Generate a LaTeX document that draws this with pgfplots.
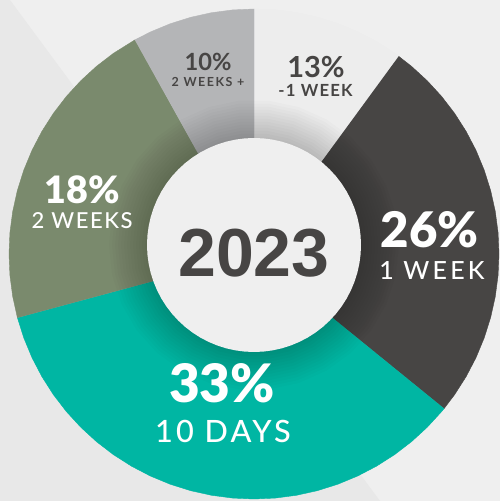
\documentclass[border=0pt]{standalone}
\usepackage{pgfplots}
\pgfplotsset{compat=1.18}
\usepackage{fontspec}
\newfontfamily\lato{Lato}
\newfontfamily\latoblk{Lato Black}
\newfontfamily\latomed[LetterSpace=7]{Lato Medium}
\newfontfamily\latosp[LetterSpace=7]{Lato}
\newfontfamily\arialf{Liberation Sans}
\definecolor{bgR}{HTML}{EFEFEF}
\definecolor{bgL}{HTML}{E8E8E8}
\definecolor{darkg}{HTML}{474544}
\definecolor{teal2}{HTML}{00B6A3}
\definecolor{olive2}{HTML}{7A8A6D}
\definecolor{lgray}{HTML}{B4B5B7}
\definecolor{sec13}{HTML}{EDEDED}
\definecolor{discc}{HTML}{EFEFEF}
\pgfplotsset{every axis/.append style={width=500pt, height=501pt, scale only axis, hide axis, clip=true, at={(0,0)}, anchor=south west},
  ring/.style={fill=black, fill opacity=0.017, draw=none, data cs=polar}}
\begin{document}
\begin{tikzpicture}
% axis 1: background and sectors, sectors centred at (0,0)
\begin{axis}[xmin=-254, xmax=246, ymin=-247, ymax=254]
\addplot[fill=bgR, draw=none] coordinates {(-254,-247) (246,-247) (246,254) (-254,254)};
\addplot[fill=bgL, draw=none] coordinates {(-254,254) (-244,254) (126,-247) (-254,-247)};
\addplot[fill=sec13, draw=sec13, line width=0.4pt, data cs=polar] coordinates {(0,0) (53.8,245) (55,245) (60,245) (65,245) (70,245) (75,245) (80,245) (85,245) (90,245)};
\addplot[fill=darkg, draw=darkg, line width=0.4pt, data cs=polar] coordinates {(0,0) (-39.1,245) (-35,245) (-30,245) (-25,245) (-20,245) (-15,245) (-10,245) (-5,245) (0,245) (5,245) (10,245) (15,245) (20,245) (25,245) (30,245) (35,245) (40,245) (45,245) (50,245) (53.8,245)};
\addplot[fill=teal2, draw=teal2, line width=0.4pt, data cs=polar] coordinates {(0,0) (195.1,245) (200,245) (205,245) (210,245) (215,245) (220,245) (225,245) (230,245) (235,245) (240,245) (245,245) (250,245) (255,245) (260,245) (265,245) (270,245) (275,245) (280,245) (285,245) (290,245) (295,245) (300,245) (305,245) (310,245) (315,245) (320,245) (320.9,245)};
\addplot[fill=olive2, draw=olive2, line width=0.4pt, data cs=polar] coordinates {(0,0) (119.1,245) (125,245) (130,245) (135,245) (140,245) (145,245) (150,245) (155,245) (160,245) (165,245) (170,245) (175,245) (180,245) (185,245) (190,245) (195,245) (195.1,245)};
\addplot[fill=lgray, draw=lgray, line width=0.4pt, data cs=polar] coordinates {(0,0) (90,245) (95,245) (100,245) (105,245) (110,245) (115,245) (119.1,245)};
\end{axis}
% axis 2: centre disc (centred at (0,0), 9 units above the sectors' centre), its soft shadow and the labels
\begin{axis}[xmin=-254, xmax=246, ymin=-256, ymax=245]
\addplot[ring] coordinates {(0,145) (12,145) (24,145) (36,145) (48,145) (60,145) (72,145) (84,145) (96,145) (108,145) (120,145) (132,145) (144,145) (156,145) (168,145) (180,145) (192,145) (204,145) (216,145) (228,145) (240,145) (252,145) (264,145) (276,145) (288,145) (300,145) (312,145) (324,145) (336,145) (348,145)};
\addplot[ring] coordinates {(0,142) (12,142) (24,142) (36,142) (48,142) (60,142) (72,142) (84,142) (96,142) (108,142) (120,142) (132,142) (144,142) (156,142) (168,142) (180,142) (192,142) (204,142) (216,142) (228,142) (240,142) (252,142) (264,142) (276,142) (288,142) (300,142) (312,142) (324,142) (336,142) (348,142)};
\addplot[ring] coordinates {(0,139) (12,139) (24,139) (36,139) (48,139) (60,139) (72,139) (84,139) (96,139) (108,139) (120,139) (132,139) (144,139) (156,139) (168,139) (180,139) (192,139) (204,139) (216,139) (228,139) (240,139) (252,139) (264,139) (276,139) (288,139) (300,139) (312,139) (324,139) (336,139) (348,139)};
\addplot[ring] coordinates {(0,136) (12,136) (24,136) (36,136) (48,136) (60,136) (72,136) (84,136) (96,136) (108,136) (120,136) (132,136) (144,136) (156,136) (168,136) (180,136) (192,136) (204,136) (216,136) (228,136) (240,136) (252,136) (264,136) (276,136) (288,136) (300,136) (312,136) (324,136) (336,136) (348,136)};
\addplot[ring] coordinates {(0,133) (12,133) (24,133) (36,133) (48,133) (60,133) (72,133) (84,133) (96,133) (108,133) (120,133) (132,133) (144,133) (156,133) (168,133) (180,133) (192,133) (204,133) (216,133) (228,133) (240,133) (252,133) (264,133) (276,133) (288,133) (300,133) (312,133) (324,133) (336,133) (348,133)};
\addplot[ring] coordinates {(0,130) (12,130) (24,130) (36,130) (48,130) (60,130) (72,130) (84,130) (96,130) (108,130) (120,130) (132,130) (144,130) (156,130) (168,130) (180,130) (192,130) (204,130) (216,130) (228,130) (240,130) (252,130) (264,130) (276,130) (288,130) (300,130) (312,130) (324,130) (336,130) (348,130)};
\addplot[ring] coordinates {(0,127) (12,127) (24,127) (36,127) (48,127) (60,127) (72,127) (84,127) (96,127) (108,127) (120,127) (132,127) (144,127) (156,127) (168,127) (180,127) (192,127) (204,127) (216,127) (228,127) (240,127) (252,127) (264,127) (276,127) (288,127) (300,127) (312,127) (324,127) (336,127) (348,127)};
\addplot[ring] coordinates {(0,124) (12,124) (24,124) (36,124) (48,124) (60,124) (72,124) (84,124) (96,124) (108,124) (120,124) (132,124) (144,124) (156,124) (168,124) (180,124) (192,124) (204,124) (216,124) (228,124) (240,124) (252,124) (264,124) (276,124) (288,124) (300,124) (312,124) (324,124) (336,124) (348,124)};
\addplot[ring] coordinates {(0,121) (12,121) (24,121) (36,121) (48,121) (60,121) (72,121) (84,121) (96,121) (108,121) (120,121) (132,121) (144,121) (156,121) (168,121) (180,121) (192,121) (204,121) (216,121) (228,121) (240,121) (252,121) (264,121) (276,121) (288,121) (300,121) (312,121) (324,121) (336,121) (348,121)};
\addplot[ring] coordinates {(0,118) (12,118) (24,118) (36,118) (48,118) (60,118) (72,118) (84,118) (96,118) (108,118) (120,118) (132,118) (144,118) (156,118) (168,118) (180,118) (192,118) (204,118) (216,118) (228,118) (240,118) (252,118) (264,118) (276,118) (288,118) (300,118) (312,118) (324,118) (336,118) (348,118)};
\addplot[ring] coordinates {(0,115) (12,115) (24,115) (36,115) (48,115) (60,115) (72,115) (84,115) (96,115) (108,115) (120,115) (132,115) (144,115) (156,115) (168,115) (180,115) (192,115) (204,115) (216,115) (228,115) (240,115) (252,115) (264,115) (276,115) (288,115) (300,115) (312,115) (324,115) (336,115) (348,115)};
\addplot[ring] coordinates {(0,112) (12,112) (24,112) (36,112) (48,112) (60,112) (72,112) (84,112) (96,112) (108,112) (120,112) (132,112) (144,112) (156,112) (168,112) (180,112) (192,112) (204,112) (216,112) (228,112) (240,112) (252,112) (264,112) (276,112) (288,112) (300,112) (312,112) (324,112) (336,112) (348,112)};
\addplot[ring] coordinates {(0,109) (12,109) (24,109) (36,109) (48,109) (60,109) (72,109) (84,109) (96,109) (108,109) (120,109) (132,109) (144,109) (156,109) (168,109) (180,109) (192,109) (204,109) (216,109) (228,109) (240,109) (252,109) (264,109) (276,109) (288,109) (300,109) (312,109) (324,109) (336,109) (348,109)};
\addplot[fill=discc, draw=none, data cs=polar] coordinates {(0,107) (5,107) (10,107) (15,107) (20,107) (25,107) (30,107) (35,107) (40,107) (45,107) (50,107) (55,107) (60,107) (65,107) (70,107) (75,107) (80,107) (85,107) (90,107) (95,107) (100,107) (105,107) (110,107) (115,107) (120,107) (125,107) (130,107) (135,107) (140,107) (145,107) (150,107) (155,107) (160,107) (165,107) (170,107) (175,107) (180,107) (185,107) (190,107) (195,107) (200,107) (205,107) (210,107) (215,107) (220,107) (225,107) (230,107) (235,107) (240,107) (245,107) (250,107) (255,107) (260,107) (265,107) (270,107) (275,107) (280,107) (285,107) (290,107) (295,107) (300,107) (305,107) (310,107) (315,107) (320,107) (325,107) (330,107) (335,107) (340,107) (345,107) (350,107) (355,107)};
% labels (coordinates of this axis: sectors' centre is at (0,-9))
\node[anchor=base, font=\arialf\bfseries\fontsize{68}{68}\selectfont, text=darkg, inner sep=0pt] at (axis cs:0,-32) {2023};
\node[anchor=base, font=\lato\bfseries\fontsize{23.7}{24}\selectfont, text=darkg, inner sep=0pt] at (axis cs:-46,174) {10\%};
\node[anchor=base, font=\latosp\bfseries\addfontfeature{LetterSpace=12}\fontsize{12.5}{13}\selectfont, text=darkg, inner sep=0pt] at (axis cs:-46,158) {2 WEEKS +};
\node[anchor=base, font=\lato\bfseries\fontsize{29}{29}\selectfont, text=darkg, inner sep=0pt] at (axis cs:62,167) {13\%};
\node[anchor=base, font=\latosp\bfseries\fontsize{16.7}{17}\selectfont, text=darkg, inner sep=0pt] at (axis cs:61.5,148) {-1 WEEK};
\node[anchor=base, font=\latoblk\fontsize{37.7}{38}\selectfont, text=white, inner sep=0pt] at (axis cs:-172,41) {18\%};
\node[anchor=base, font=\latomed\fontsize{22}{22}\selectfont, text=white, inner sep=0pt] at (axis cs:-172,16) {2 WEEKS};
\node[anchor=base, font=\latoblk\fontsize{49}{49}\selectfont, text=white, inner sep=0pt] at (axis cs:175.5,-3) {26\%};
\node[anchor=base, font=\latomed\addfontfeature{LetterSpace=13}\fontsize{25}{25}\selectfont, text=white, inner sep=0pt] at (axis cs:178,-35) {1 WEEK};
\node[anchor=base, font=\latoblk\fontsize{53}{53}\selectfont, text=white, inner sep=0pt] at (axis cs:-32,-158) {33\%};
\node[anchor=base, font=\latomed\addfontfeature{LetterSpace=10}\fontsize{30.7}{31}\selectfont, text=white, inner sep=0pt] at (axis cs:-31,-198) {10 DAYS};
\end{axis}
\end{tikzpicture}
\end{document}
